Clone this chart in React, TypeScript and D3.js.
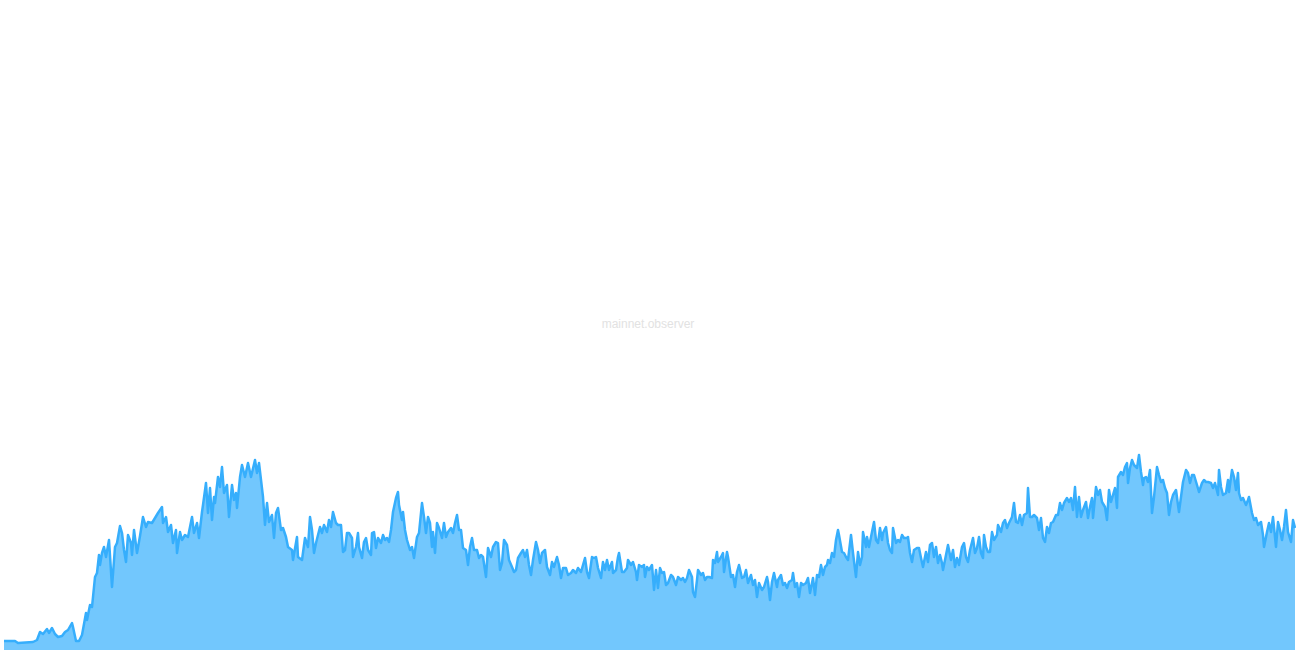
import React from "react";
import * as d3 from "d3";

const WIDTH = 1296;
const HEIGHT = 650;

const days = [
  0, 11, 14, 29, 33, 36, 39, 43, 45, 48, 51, 54, 58, 61, 64, 68, 69, 72, 75, 78, 82, 83, 86, 88, 91, 93, 95, 96, 98, 100, 102, 105, 108, 111, 113, 116, 118, 120, 122, 124, 127, 128, 130, 133, 136, 139, 142, 144, 148, 151, 154, 158, 159, 162, 164, 167, 169, 172, 173, 176, 178, 181, 184, 188, 190, 193, 195, 198, 199, 202, 204, 206, 208, 210,
  211, 214, 216, 218, 220, 223, 225, 228, 230, 232, 233, 236, 238, 241, 244, 247, 251, 253, 255, 259, 261, 263, 265, 268, 270, 272, 274, 277, 279, 282, 284, 288, 289, 293, 294, 298, 301, 304, 306, 308, 310, 312, 316, 318, 320, 323, 325, 327, 329, 332, 334, 337, 339, 341, 343, 345, 348, 349, 352, 354, 355, 358, 360, 362, 364, 367, 368, 370, 372, 374, 377, 379, 381, 383, 385, 387, 389, 392, 394, 395, 398, 399, 401, 403, 406, 408, 410, 413, 415, 418, 420, 422, 424,
  426, 428, 429, 431, 433, 435, 438, 440, 442, 444, 447, 449, 451, 453, 455, 457, 459, 462, 464, 466, 468, 470, 473, 475, 477, 479, 482, 484, 487, 489, 492, 494, 496, 498, 500, 503, 505, 508, 510, 512, 514, 517, 519, 521, 523, 525, 527, 529, 532, 534, 536, 538, 541, 543, 546, 548, 550, 553, 555, 557, 559, 562, 564, 567, 569, 572, 574, 577, 579, 581, 583, 585, 588, 590, 592, 594, 597, 599, 601, 603, 605, 608, 609, 612, 614, 615, 618, 620, 623, 624, 627, 629, 632, 633, 635, 638, 640,
  641, 643, 645, 648, 650, 652, 654, 656, 658, 660, 662, 664, 667, 669, 672, 674, 677, 679, 681, 683, 685, 688, 689, 691, 693, 694, 697, 699, 701, 703, 705, 708, 709, 711, 713, 714, 717, 719, 720, 723, 724, 727, 729, 731, 733, 735, 738, 740, 742, 744, 747, 749, 751, 753, 755, 758, 760, 763, 764, 766, 768, 770, 773, 774, 777, 779, 781, 783, 785, 788, 789, 791, 793, 795, 797, 799, 802, 804, 806, 808, 809, 811, 813, 815, 817, 819, 821, 823, 824, 826, 828, 830, 832, 834, 835, 838, 840, 842, 844, 847, 849, 852, 854,
  856, 858, 859, 862, 863, 865, 868, 870, 872, 874, 876, 878, 879, 882, 884, 886, 888, 889, 892, 894, 896, 898, 900, 903, 904, 906, 908, 910, 913, 915, 917, 919, 922, 924, 926, 928, 930, 932, 934, 936, 938, 939, 942, 944, 947, 949, 951, 953, 955, 958, 960, 962, 964, 966, 969, 971, 973, 975, 977, 979, 980, 982, 984, 986, 988, 990, 993, 994, 997, 999, 1001, 1003, 1005, 1008, 1010, 1012, 1014, 1016, 1018, 1020, 1023, 1024, 1026, 1028, 1030, 1033, 1035, 1037, 1039, 1041, 1043, 1045, 1047, 1049, 1052, 1054, 1056, 1058, 1060, 1063, 1065, 1067, 1069,
  1071, 1073, 1075, 1077, 1079, 1082, 1084, 1086, 1088, 1089, 1092, 1094, 1096, 1098, 1101, 1103, 1105, 1107, 1109, 1111, 1113, 1114, 1117, 1119, 1121, 1123, 1124, 1126, 1128, 1130, 1133, 1135, 1137, 1139, 1140, 1142, 1144, 1146, 1148, 1150, 1153, 1155, 1157, 1159, 1161, 1163, 1165, 1167, 1169, 1172, 1174, 1175, 1177, 1179, 1182, 1184, 1186, 1188, 1190, 1193, 1195, 1198, 1200, 1202, 1204, 1207, 1209, 1211, 1214, 1215, 1217, 1219, 1222, 1224, 1225, 1228, 1230, 1232, 1234, 1235, 1237, 1239, 1242, 1244, 1245, 1248, 1250, 1252, 1254, 1257, 1259, 1260, 1263, 1265, 1267, 1269, 1272, 1274, 1276, 1278, 1280, 1282, 1284, 1287, 1289, 1291,
];

const values = [
  9, 9, 7, 8, 10, 18, 16, 21, 17, 22, 16, 13, 14, 18, 20, 27, 23, 9, 9, 15, 37, 30, 45, 43, 73, 77, 95, 85, 97, 103, 93, 110, 63, 103, 107, 124, 117, 100, 88, 115, 107, 95, 120, 97, 114, 133, 123, 128, 127, 132, 137, 143, 127, 133, 118, 125, 107, 120, 97, 118, 110, 115, 113, 133, 117, 127, 112, 138, 145, 167, 137, 162, 130, 153,
  147, 173, 163, 183, 157, 165, 133, 165, 150, 157, 142, 173, 185, 173, 187, 173, 190, 177, 187, 153, 125, 147, 128, 135, 112, 137, 142, 120, 122, 113, 103, 100, 90, 113, 93, 90, 112, 103, 133, 120, 97, 107, 123, 117, 125, 118, 130, 123, 138, 127, 125, 125, 98, 100, 117, 117, 112, 93, 103, 117, 103, 92, 108, 112, 100, 95, 117, 118, 102, 112, 107, 115, 110, 112, 108, 120, 138, 152, 158, 145, 130, 138, 120, 110, 100, 103, 92, 113, 117, 147, 133, 117, 133,
  127, 103, 118, 97, 127, 122, 112, 127, 113, 118, 122, 117, 127, 135, 120, 120, 102, 100, 85, 103, 112, 100, 100, 92, 95, 93, 73, 102, 93, 103, 108, 107, 80, 87, 110, 105, 90, 83, 78, 80, 92, 97, 100, 93, 100, 85, 75, 90, 108, 100, 87, 97, 100, 83, 75, 88, 83, 93, 85, 72, 82, 82, 75, 77, 80, 77, 82, 78, 85, 92, 78, 72, 93, 92, 93, 82, 72, 88, 80, 90, 80, 88, 77, 80, 93, 97, 78, 78, 82, 90, 85, 88, 78, 70, 85, 83, 85,
  73, 83, 80, 85, 60, 80, 62, 82, 77, 78, 65, 67, 75, 73, 65, 73, 70, 72, 68, 72, 80, 73, 58, 53, 70, 80, 75, 77, 70, 73, 73, 72, 90, 87, 98, 88, 93, 97, 78, 98, 93, 73, 75, 63, 78, 85, 72, 73, 80, 67, 75, 65, 70, 53, 67, 60, 63, 73, 68, 50, 68, 77, 63, 70, 75, 65, 67, 62, 68, 70, 77, 63, 67, 53, 67, 65, 67, 72, 57, 67, 72, 55, 75, 73, 85, 75, 83, 85, 90, 87, 97, 93, 110, 120, 115, 98, 97, 93, 90, 115, 97, 73, 98,
  85, 93, 118, 103, 113, 103, 118, 128, 110, 107, 122, 110, 117, 123, 107, 100, 97, 122, 107, 110, 108, 115, 112, 112, 113, 97, 88, 100, 102, 102, 92, 83, 98, 88, 105, 107, 93, 103, 87, 95, 87, 80, 95, 105, 90, 100, 83, 92, 85, 103, 107, 93, 88, 100, 112, 97, 102, 113, 97, 92, 115, 103, 98, 98, 118, 110, 115, 125, 118, 127, 130, 122, 127, 133, 147, 128, 127, 135, 125, 135, 137, 162, 133, 133, 135, 132, 120, 132, 112, 108, 123, 117, 127, 128, 135, 135, 147, 140, 147, 152, 148, 152, 140,
  163, 133, 153, 133, 140, 148, 132, 143, 152, 132, 163, 155, 160, 148, 143, 130, 160, 148, 155, 162, 142, 173, 178, 175, 183, 187, 167, 182, 190, 185, 182, 195, 178, 165, 172, 173, 168, 180, 137, 153, 183, 175, 168, 170, 162, 157, 135, 148, 155, 160, 145, 138, 153, 168, 180, 177, 167, 175, 175, 165, 158, 167, 170, 168, 168, 167, 162, 167, 155, 180, 163, 155, 157, 170, 158, 180, 173, 160, 177, 157, 150, 152, 145, 150, 153, 137, 130, 132, 125, 128, 115, 103, 118, 127, 118, 133, 103, 128, 120, 110, 123, 140, 118, 108, 130, 122,
];

const watermarkText = "mainnet.observer";

export default function App() {
  const data = days.map((d, i) => ({ day: d, value: values[i] }));

  const x = d3
    .scaleLinear()
    .domain([0, d3.max(days) as number])
    .range([4, WIDTH - 1]);

  const y = d3.scaleLinear().domain([0, 200]).range([HEIGHT, HEIGHT - 200]);

  const area = d3
    .area<{ day: number; value: number }>()
    .x((d) => x(d.day))
    .y0(HEIGHT)
    .y1((d) => y(d.value))
    .curve(d3.curveLinear);

  const line = d3
    .line<{ day: number; value: number }>()
    .x((d) => x(d.day))
    .y((d) => y(d.value))
    .curve(d3.curveLinear);

  return (
    <svg
      width={WIDTH}
      height={HEIGHT}
      style={{ position: "absolute", left: 0, top: 0, background: "#fff" }}
    >
      <text
        x={WIDTH / 2}
        y={HEIGHT / 2 + 3}
        textAnchor="middle"
        fontFamily="'Liberation Sans', Arial, sans-serif"
        fontSize={12}
        fill="#e2e2e2"
      >
        {watermarkText}
      </text>
      <path d={area(data) || ""} fill="#72c7fd" />
      <path
        d={line(data) || ""}
        fill="none"
        stroke="#36aefc"
        strokeWidth={2.5}
        strokeLinejoin="round"
      />
    </svg>
  );
}
